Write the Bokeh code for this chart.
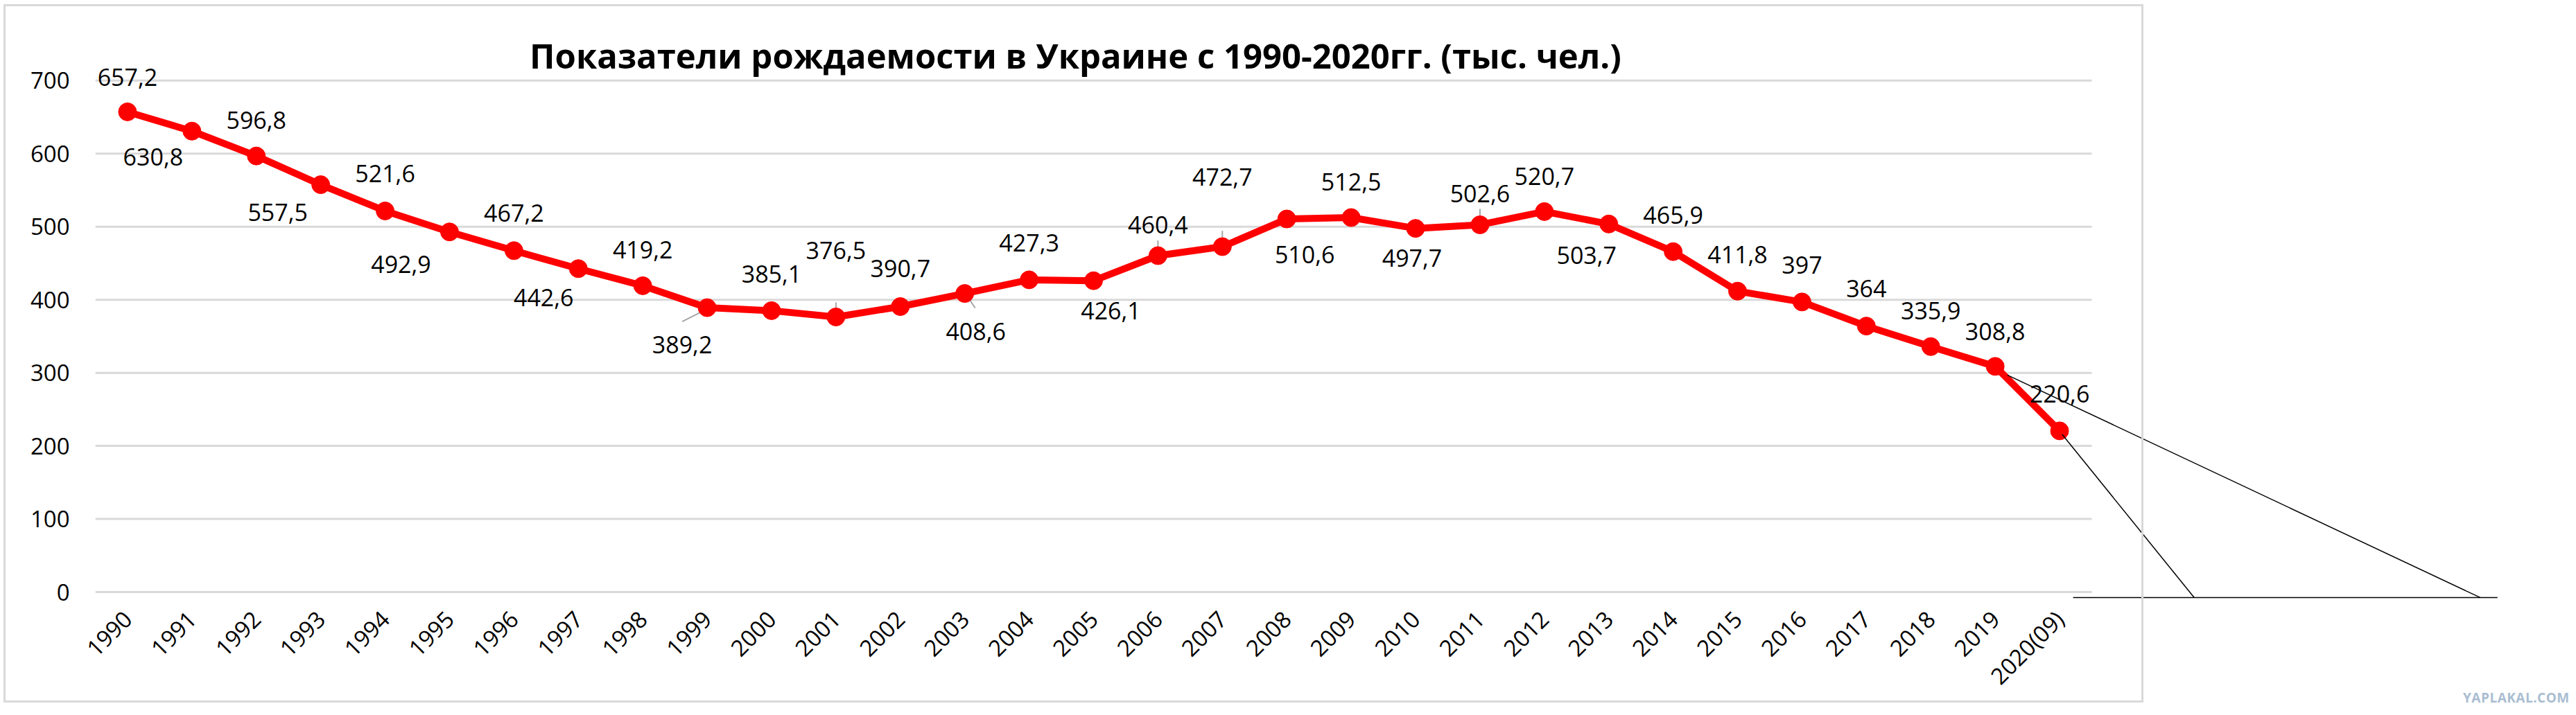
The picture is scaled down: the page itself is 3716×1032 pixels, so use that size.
import math
from bokeh.plotting import figure
from bokeh.models import ColumnDataSource, Range1d, FixedTicker, Label, InlineStyleSheet
from bokeh.core.properties import value
from bokeh.embed import file_html
from bokeh.resources import INLINE

# ---------------- data ----------------
years = ["1990", "1991", "1992", "1993", "1994", "1995", "1996", "1997", "1998", "1999",
         "2000", "2001", "2002", "2003", "2004", "2005", "2006", "2007", "2008", "2009",
         "2010", "2011", "2012", "2013", "2014", "2015", "2016", "2017", "2018", "2019",
         "2020(09)"]
births = [657.2, 630.8, 596.8, 557.5, 521.6, 492.9, 467.2, 442.6, 419.2, 389.2,
          385.1, 376.5, 390.7, 408.6, 427.3, 426.1, 460.4, 472.7, 510.6, 512.5,
          497.7, 502.6, 520.7, 503.7, 465.9, 411.8, 397, 364, 335.9, 308.8,
          220.6]
y_ticks = [0, 100, 200, 300, 400, 500, 600, 700]
title_text = "Показатели рождаемости в Украине с 1990-2020гг. (тыс. чел.)"
watermark = "YAPLAKAL.COM"

# ---------------- layout (label placement offsets in px; negative dy = up) -------------
label_dx = [0, -56, 0, -62, 0, -70, 0, -50, 0, -36,
            0, 0, 0, 16, 0, 25, 0, 0, 26, 0,
            -5, 0, 0, -32, 0, 0, 0, 0, 0, 0, 0]
label_dy = [-50, 37, -52, 40, -54, 47, -54, 42, -52, 53,
            -53, -96, -55, 55, -53, 43, -44, -101, 51, -52,
            43, -45, -51, 45, -53, -53, -53, -54, -52, -50, -53]
# leader lines: (index, dx0, dy0, dx1, dy1) in px relative to the point
leaders = [(9, 0, 2, -36, 20), (11, 0, -3, 0, -21), (13, 1, 0, 15, 21),
           (16, 0, -2, 0, -22), (17, 0, -1, 0, -23), (21, 0, -1, 0, -23)]
# hand-drawn callout lines (data coordinates)
callout_x0 = [30.21, 29.19, 30.04]
callout_y0 = [-7.5, 297.0, 215.7]
callout_x1 = [36.80, 36.53, 32.09]
callout_y1 = [-7.5, -7.5, -7.5]

W, H = 3700, 1016
BL, BR, BT, BB = 137, 60, 30, 148
X0, X1 = -0.5, 37.206
FW, FH = W - BL - BR, H - BT - BB
px_x = FW / (X1 - X0)
k = 740 / 700.0                     # px per data unit (vertical)
Y1 = 700 + (116 - BT) / k
Y0 = -((H - BB) - 856) / k
px_y = FH / (Y1 - Y0)

FONT = "Open Sans"

def fmt(v):
    return str(int(v)) if float(v).is_integer() else str(v).replace(".", ",")

n = len(years)
xs = list(range(n))

p = figure(width=W, height=H, output_backend="svg", toolbar_location=None,
           x_range=Range1d(X0, X1), y_range=Range1d(Y0, Y1),
           min_border_left=BL, min_border_right=BR, min_border_top=BT, min_border_bottom=BB)
p.background_fill_color = "white"
p.border_fill_color = "white"
p.outline_line_color = None
p.xgrid.visible = False
p.ygrid.visible = False

# chart-area border and watermark (page decoration)
css = """
:host { position: relative; }
:host::after { content: ''; position: absolute; left: 5px; top: 6px; width: 3087px; height: 1008px;
  border: 3px solid #d9d9d9; box-sizing: border-box; pointer-events: none; z-index: 10; }
:host::before { content: '%s'; position: absolute; left: 3553px; top: 994px; z-index: 10;
  font-family: 'Open Sans'; font-weight: bold; font-size: 19px; color: #a9bdd1; letter-spacing: 0.5px; }
""" % watermark
p.stylesheets = [InlineStyleSheet(css=css)]

# title
p.add_layout(Label(x=X0 + (1551 - BL) / px_x, y=700 + (116 - 80) / k, text=title_text,
                   text_font=FONT, text_font_size="49px", text_font_style="bold",
                   text_color="black", text_align="center", text_baseline="middle"))

# gridlines (only across the category span)
p.segment(x0=[-0.5] * len(y_ticks), x1=[n - 0.5] * len(y_ticks), y0=y_ticks, y1=y_ticks,
          line_color="#d9d9d9", line_width=3, level="underlay")

# axes
p.xaxis.ticker = FixedTicker(ticks=xs)
p.xaxis.major_label_overrides = {i: years[i] for i in xs}
p.xaxis.major_label_orientation = math.pi / 4
p.yaxis.ticker = FixedTicker(ticks=y_ticks)
for ax in (p.xaxis, p.yaxis):
    ax.axis_line_color = None
    ax.major_tick_line_color = None
    ax.minor_tick_line_color = None
    ax.major_tick_out = 0
    ax.major_tick_in = 0
    ax.minor_tick_out = 0
    ax.major_label_text_font = FONT
    ax.major_label_text_color = "black"
p.xaxis.major_label_text_font_size = "33px"
p.yaxis.major_label_text_font_size = "33px"
p.xaxis.major_label_standoff = 21
p.yaxis.major_label_standoff = 37

# leader lines
lx0 = [leaders[j][0] + leaders[j][1] / px_x for j in range(len(leaders))]
ly0 = [births[leaders[j][0]] - leaders[j][2] / px_y for j in range(len(leaders))]
lx1 = [leaders[j][0] + leaders[j][3] / px_x for j in range(len(leaders))]
ly1 = [births[leaders[j][0]] - leaders[j][4] / px_y for j in range(len(leaders))]
p.segment(x0=lx0, y0=ly0, x1=lx1, y1=ly1, line_color="#a6a6a6", line_width=2)

# series
src = ColumnDataSource(dict(x=xs, y=births, label=[fmt(v) for v in births],
                            dx=label_dx, dy=label_dy))
p.line("x", "y", source=src, line_color="#ff0000", line_width=10, line_join="round")
p.scatter("x", "y", source=src, size=26, fill_color="#ff0000", line_color="#ff0000")

# callout lines
p.segment(x0=callout_x0, y0=callout_y0, x1=callout_x1, y1=callout_y1,
          line_color="black", line_width=1.5)

# data labels
p.text("x", "y", text="label", source=src, x_offset="dx", y_offset="dy",
       text_align="center", text_baseline="middle",
       text_font=value(FONT), text_font_size="34px", text_color="black")

open("out.html", "w").write(file_html(p, INLINE))
